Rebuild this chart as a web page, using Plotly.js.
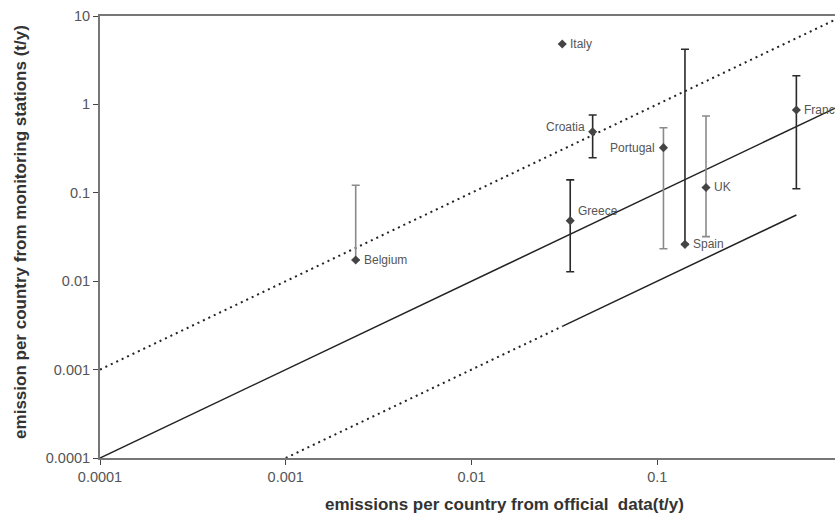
<!DOCTYPE html>
<html>
<head>
<meta charset="utf-8">
<script src="https://cdn.plot.ly/plotly-3.0.1.min.js"></script>
<style>
html,body{margin:0;padding:0;overflow:hidden;background:#fff;}
#chart{width:850px;height:515px;}
</style>
</head>
<body>
<div id="chart"></div>
<script>
// ---- data ----
var countries = ["Belgium", "Greece", "Italy", "Croatia", "Portugal", "Spain", "UK", "France"];
var officialData = [0.00238, 0.034, 0.0308, 0.0449, 0.108, 0.141, 0.183, 0.561];
var stationData = [0.0174, 0.0484, 4.82, 0.491, 0.324, 0.0261, 0.115, 0.865];
var errUpper = [0.1216, 0.14, null, 0.759, 0.545, 4.2, 0.74, 2.11];
var errLower = [0.0174, 0.0128, null, 0.249, 0.0233, 0.0261, 0.0319, 0.111];
var barShade = ["gray", "dark", "none", "dark", "gray", "dark", "gray", "dark"];
var labelSide = ["right", "right", "right", "left", "left", "right", "right", "right"];
var labelLift = [0, 10, 0, 5, 0, 0, 0, 0];

var tickValues = [0.0001, 0.001, 0.01, 0.1, 1, 10];
var tickLabels = ["0.0001", "0.001", "0.01", "0.1", "1", "10"];

// reference lines: 1:1, x10 and /10
var lineOneX = [0.0001, 1], lineOneY = [0.0001, 1];
var lineUpX = [0.0001, 1], lineUpY = [0.001, 10];
var lineLowDotX = [0.001, 0.0308], lineLowDotY = [0.0001, 0.00308];
var lineLowSolidX = [0.0308, 0.561], lineLowSolidY = [0.00308, 0.0561];

var traces = [];
var dotted = {color: "#222", width: 2, dash: "2px,4px"};
var solid = {color: "#222", width: 1.5};
traces.push({x: lineOneX, y: lineOneY, mode: "lines", line: solid, hoverinfo: "skip"});
traces.push({x: lineUpX, y: lineUpY, mode: "lines", line: dotted, hoverinfo: "skip"});
traces.push({x: lineLowDotX, y: lineLowDotY, mode: "lines", line: dotted, hoverinfo: "skip"});
traces.push({x: lineLowSolidX, y: lineLowSolidY, mode: "lines", line: solid, hoverinfo: "skip"});

var annotations = [];
for (var i = 0; i < countries.length; i++) {
  var t = {
    x: [officialData[i]], y: [stationData[i]], mode: "markers",
    marker: {symbol: "diamond", size: 7, color: "#444"},
    name: countries[i]
  };
  if (errUpper[i] !== null) {
    t.error_y = {
      type: "data", symmetric: false,
      array: [errUpper[i] - stationData[i]],
      arrayminus: [stationData[i] - errLower[i]],
      color: barShade[i] === "gray" ? "#8a8a8a" : "#2a2a2a",
      thickness: 1.6, width: 4
    };
  }
  traces.push(t);
  var right = labelSide[i] === "right";
  annotations.push({
    x: Math.log10(officialData[i]), y: Math.log10(stationData[i]),
    xref: "x", yref: "y", text: countries[i], showarrow: false,
    xanchor: right ? "left" : "right", yanchor: "middle",
    xshift: right ? 6 : -6, yshift: labelLift[i],
    font: {size: 12, color: "#555"}
  });
}

annotations.push({
  xref: "paper", yref: "paper", x: 0.545, y: -0.106,
  xanchor: "center", yanchor: "middle", showarrow: false,
  text: "emissions per country from official\u00a0 data(t/y)",
  font: {size: 17, color: "#333", weight: "bold"}
});
annotations.push({
  xref: "paper", yref: "paper", x: -0.108, y: 0.511,
  xanchor: "center", yanchor: "middle", showarrow: false, textangle: -90,
  text: "emission per country from monitoring stations (t/y)",
  font: {size: 17, color: "#333", weight: "bold"}
});

var axisCommon = {
  type: "log", showgrid: false, zeroline: false,
  showline: true, linecolor: "#777", linewidth: 2, mirror: true,
  ticks: "outside", ticklen: 5, tickwidth: 1, tickcolor: "#444",
  tickmode: "array", tickvals: tickValues, ticktext: tickLabels,
  tickfont: {size: 14.5, color: "#555"}
};
var xaxis = Object.assign({}, axisCommon, {range: [-4, 0]});
var yaxis = Object.assign({}, axisCommon, {range: [-4, 1]});

var layout = {
  width: 850, height: 515,
  margin: {l: 100, r: 7, t: 16, b: 57},
  paper_bgcolor: "#fff", plot_bgcolor: "#fff",
  font: {family: "Liberation Sans, Arial, sans-serif"},
  showlegend: false,
  xaxis: xaxis, yaxis: yaxis,
  annotations: annotations
};

Plotly.newPlot("chart", traces, layout, {staticPlot: true, displayModeBar: false});
</script>
</body>
</html>
